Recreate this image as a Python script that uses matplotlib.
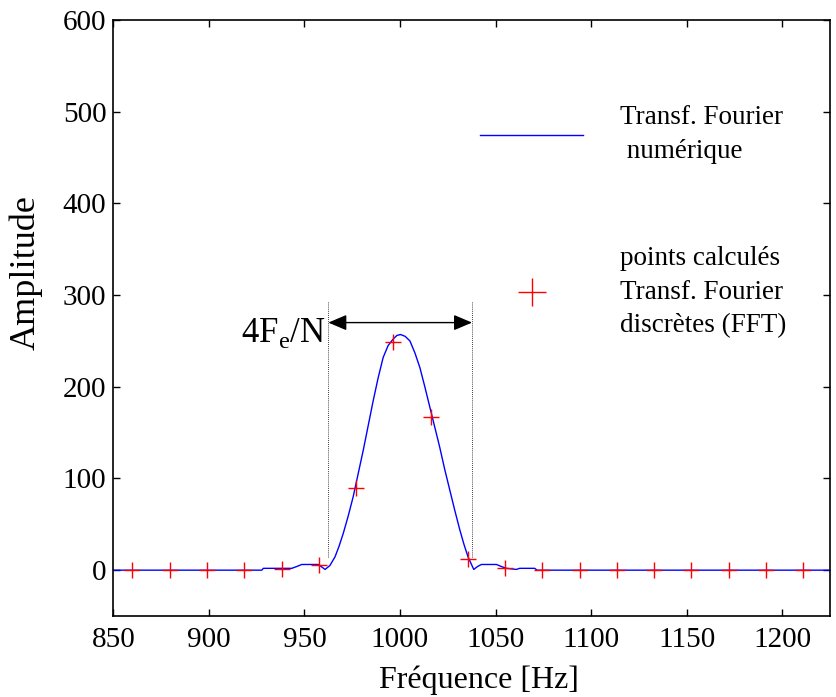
import numpy as np
import matplotlib.pyplot as plt

plt.rcParams['font.family'] = ['Liberation Serif', 'DejaVu Serif']
plt.rcParams['mathtext.fontset'] = 'custom'
plt.rcParams['mathtext.rm'] = 'Liberation Serif'

# continuous spectrum
curve_f = [850, 927.7, 928.5, 943.4, 946.0, 948.6, 957.3, 960.8, 963.3, 966.0,
           968.1, 970.3, 972.9, 975.5, 978.1, 980.8, 983.4, 986.0, 988.6, 991.2,
           993.8, 996.4, 998.4, 1000.3, 1002.7, 1005.2, 1007.8, 1010.4, 1013.0,
           1015.6, 1018.2, 1020.8, 1023.4, 1026.1, 1028.7, 1031.3, 1033.5, 1035.6,
           1038.6, 1040.6, 1042.6, 1050.5, 1053.0, 1055.7, 1060.9, 1062.6, 1070.5,
           1071.7, 1225]
curve_amp = [0, 0, 2, 2, 4, 6.2, 6.2, 0.8, 5, 14.5,
             26, 40, 59, 80, 105, 131, 158, 185, 210, 232,
             245, 252, 256, 257, 255, 250, 237, 221, 200,
             178, 156, 134, 110, 87, 65, 44, 28, 14.5,
             0.8, 4, 6.2, 6.2, 4, 2, 0.8, 2, 2,
             0, 0]

# FFT points
fft_f = [860, 879.5, 899, 918.5, 938, 957.5, 977, 996.5, 1016, 1035.5,
         1055, 1074.5, 1094, 1113.5, 1133, 1152.5, 1172, 1191.5, 1211]
fft_amp = [0, 0, 0, 0, 1, 5.5, 90, 249, 166.5, 11.7,
           2, 0, 0, 0, 0, 0, 0, 0, 0]

# main lobe width marker
lobe_left, lobe_right = 962.5, 1037.7
lobe_bottom, lobe_top = 14.5, 292.7
arrow_y = 270

fig = plt.figure(figsize=(8.37, 6.97), dpi=100)
ax = fig.add_axes([0.1354, 0.1162, 0.8562, 0.8551])

ax.plot(curve_f, curve_amp, color='#0000ff', lw=1.0,
        label='Transf. Fourier\n numérique')
ax.plot(fft_f, fft_amp, ls='none', marker='+', ms=11, mew=1.0, color='#ff0000',
        label='points calculés\nTransf. Fourier\ndiscrètes (FFT)')

ax.vlines([lobe_left, lobe_right], lobe_bottom, lobe_top, colors='k',
          linestyles=(0, (1, 1.5)), lw=0.6)
ax.annotate('', xy=(lobe_left, arrow_y), xytext=(lobe_right, arrow_y),
            arrowprops=dict(arrowstyle='<|-|>,head_length=0.8,head_width=0.34',
                            color='k', lw=1.0, shrinkA=0, shrinkB=0,
                            mutation_scale=14))
ax.text(917, 249, r'4F$_\mathrm{e}$/N', fontsize=25, ha='left', va='baseline')

ax.set_xlim(850, 1225)
ax.set_ylim(-50, 600)
ax.set_xticks(np.arange(850, 1201, 50))
ax.set_yticks(np.arange(0, 601, 100))
ax.tick_params(direction='in', top=True, right=True, length=5, width=1,
               labelsize=21, pad=5)
ax.tick_params(axis='x', pad=8)
for s in ax.spines.values():
    s.set_linewidth(1.2)

ax.set_xlabel('Fréquence [Hz]', fontsize=23)
ax.set_ylabel('Amplitude', fontsize=26)
ax.xaxis.set_label_coords(0.51, -0.083)
ax.yaxis.set_label_coords(-0.098, 0.577)

leg = ax.legend(loc='upper left', bbox_to_anchor=(0.512, 0.857), frameon=False,
                fontsize=19.5, handlelength=3.8, handletextpad=1.37,
                labelspacing=3.05, borderpad=0, borderaxespad=0, markerscale=1.85)
for t in leg.get_texts():
    t.set_linespacing(1.45)

fig.savefig('out.png', dpi=100)
